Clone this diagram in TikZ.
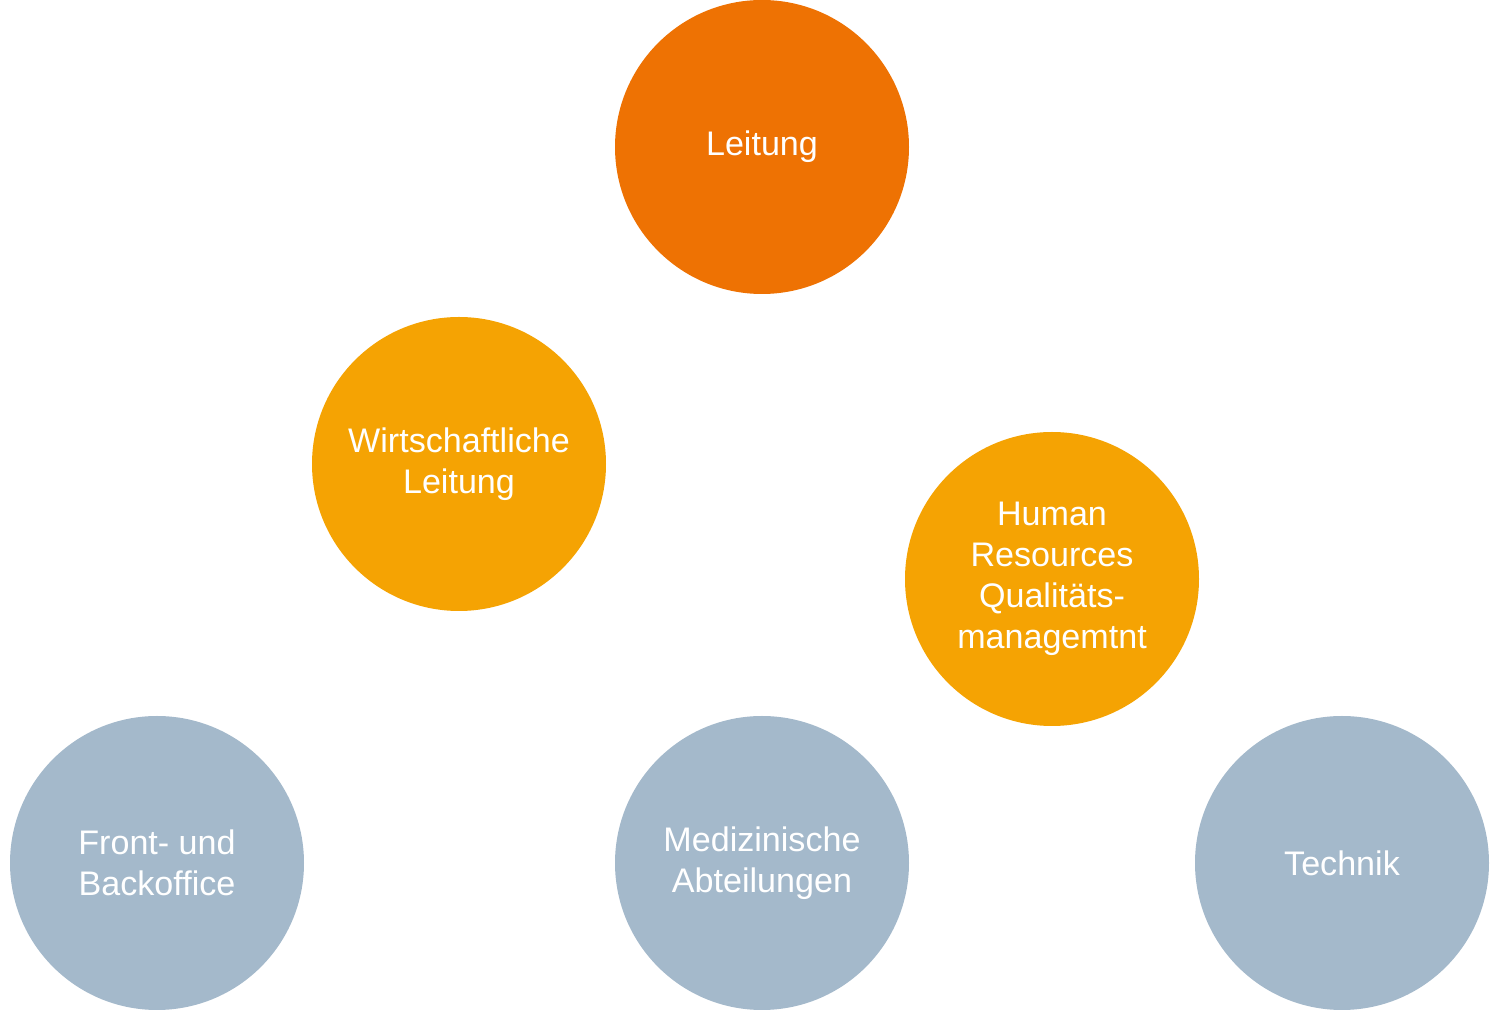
\documentclass[tikz,border=0pt]{standalone}
\usepackage{fontspec}
\setmainfont{Liberation Sans}
\usetikzlibrary{positioning}
\definecolor{cdark}{HTML}{EE7203}
\definecolor{corange}{HTML}{F5A303}
\definecolor{cblue}{HTML}{A4B9CB}
\tikzset{
  every picture/.style={font=\fontsize{9.7pt}{11.7pt}\selectfont},
  unit/.style={circle, fill=#1, draw=none, minimum size=2.94cm, inner sep=0pt, align=center, text=white},
  unit/.default=cblue,
}

\begin{document}
\begin{tikzpicture}
  \useasboundingbox (0,0) rectangle (15,10.3);
  % top
  \node[unit=cdark] (leitung) at (7.62,8.83) {Leitung};
  % second level
  \node[unit=corange] (wirt) at (4.59,5.66) {Wirtschaftliche\\Leitung};
  \node[unit=corange] (hr) at (10.52,4.51) {Human\\Resources\\Qualitäts-\\managemtnt};
  % departments
  \node[unit] (front) at (1.57,1.67) {Front- und\\Backoffice};
  \node[unit] (med) at (7.62,1.67) {Medizinische\\Abteilungen};
  \node[unit] (technik) at (13.42,1.67) {Technik};
\end{tikzpicture}
\end{document}
